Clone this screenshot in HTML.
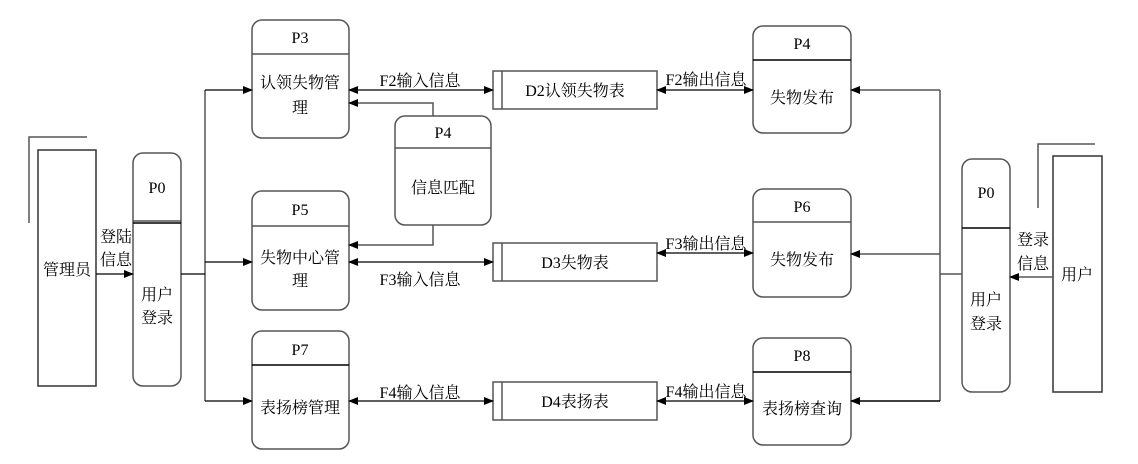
<!DOCTYPE html>
<html><head><meta charset="utf-8"><style>
html,body{margin:0;padding:0;background:#fff;}
svg text{font-family:"Liberation Serif","Noto Serif CJK SC",serif;font-size:16px;fill:#000;text-anchor:middle;}
</style></head><body>
<svg width="1138" height="459" viewBox="0 0 1138 459" xmlns="http://www.w3.org/2000/svg">
<defs>
<marker id="a" markerWidth="10" markerHeight="8" refX="9" refY="4" orient="auto-start-reverse" markerUnits="userSpaceOnUse"><path d="M0,0 L10,4 L0,8z" fill="#000"/></marker>
</defs>
<g fill="none" stroke="#555" stroke-width="1.5">
<polyline points="29,223 29,137 87,137"/>
<rect x="38" y="150" width="58" height="236" stroke="#333"/>
<rect x="133" y="153" width="48" height="233" rx="10"/>
<line x1="133" y1="221" x2="181" y2="221"/><line x1="133" y1="223" x2="181" y2="223" stroke="#000"/>
<rect x="252" y="20" width="97" height="118" rx="10"/><line x1="252" y1="54" x2="349" y2="54"/>
<rect x="252" y="191" width="97" height="119" rx="10"/><line x1="252" y1="226" x2="349" y2="226"/>
<rect x="252" y="331" width="97" height="118" rx="10"/><line x1="252" y1="365" x2="349" y2="365" stroke="#000"/>
<rect x="395" y="116" width="96" height="109" rx="10"/><line x1="395" y1="148" x2="491" y2="148"/>
<rect x="753" y="26" width="98" height="107" rx="10"/><line x1="753" y1="60" x2="851" y2="60" stroke="#000"/>
<rect x="753" y="189" width="98" height="108" rx="10"/><line x1="753" y1="222" x2="851" y2="222"/>
<rect x="753" y="338" width="98" height="107" rx="10"/><line x1="753" y1="372" x2="851" y2="372" stroke="#000"/>
<rect x="493" y="71" width="164" height="38"/><line x1="502" y1="71" x2="502" y2="109"/>
<rect x="493" y="243" width="164" height="38"/><line x1="502" y1="243" x2="502" y2="281"/>
<rect x="493" y="382" width="164" height="38"/><line x1="502" y1="382" x2="502" y2="420"/>
<rect x="962" y="159" width="48" height="233" rx="10"/>
<line x1="962" y1="228" x2="1010" y2="228" stroke="#000"/>
<polyline points="1038,208 1038,144 1095,144"/>
<rect x="1053" y="156" width="49" height="236" stroke="#333"/>
<line x1="205" y1="90" x2="205" y2="401"/>
<line x1="940" y1="90" x2="940" y2="401"/>
<line x1="940" y1="274" x2="962" y2="274"/>
<polyline points="433,116 433,103 349,103" marker-end="url(#a)"/>
<polyline points="433,225 433,245 349,245" marker-end="url(#a)"/>
<line x1="1053" y1="277" x2="1010" y2="277" marker-end="url(#a)"/>
<line x1="940" y1="90" x2="851" y2="90" marker-end="url(#a)"/>
<line x1="940" y1="254" x2="851" y2="254" marker-end="url(#a)"/>
<line x1="940" y1="401" x2="851" y2="401" stroke="#000" marker-end="url(#a)"/>
</g>
<g fill="none" stroke="#000" stroke-width="1.3">
<line x1="96" y1="274" x2="133" y2="274" marker-end="url(#a)"/>
<line x1="181" y1="274" x2="205" y2="274"/>
<line x1="205" y1="90" x2="252" y2="90" marker-end="url(#a)"/>
<line x1="205" y1="262" x2="252" y2="262" marker-end="url(#a)"/>
<line x1="205" y1="401" x2="252" y2="401" marker-end="url(#a)"/>
<line x1="349" y1="90" x2="493" y2="90" marker-start="url(#a)" marker-end="url(#a)"/>
<line x1="657" y1="90" x2="753" y2="90" marker-start="url(#a)" marker-end="url(#a)"/>
<line x1="349" y1="262" x2="493" y2="262" marker-start="url(#a)" marker-end="url(#a)"/>
<line x1="657" y1="253" x2="753" y2="253" marker-start="url(#a)" marker-end="url(#a)"/>
<line x1="349" y1="401" x2="493" y2="401" marker-start="url(#a)" marker-end="url(#a)"/>
<line x1="657" y1="401" x2="753" y2="401" marker-start="url(#a)" marker-end="url(#a)"/>
</g>
<text x="67" y="275">管理员</text>
<text x="116" y="242">登陆</text><text x="116" y="265">信息</text>
<text x="157" y="193">P0</text>
<text x="157" y="300">用户</text><text x="157" y="323">登录</text>
<text x="300" y="43">P3</text><text x="300" y="88">认领失物管</text><text x="300" y="113">理</text>
<text x="300" y="215">P5</text><text x="300" y="263">失物中心管</text><text x="300" y="286">理</text>
<text x="300" y="355">P7</text><text x="300" y="413">表扬榜管理</text>
<text x="443" y="138">P4</text><text x="443" y="193">信息匹配</text>
<text x="420" y="86">F2输入信息</text>
<text x="420" y="285">F3输入信息</text>
<text x="420" y="398">F4输入信息</text>
<text x="575" y="96">D2认领失物表</text>
<text x="575" y="268">D3失物表</text>
<text x="575" y="407">D4表扬表</text>
<text x="706" y="85">F2输出信息</text>
<text x="706" y="249">F3输出信息</text>
<text x="706" y="397">F4输出信息</text>
<text x="802" y="49">P4</text><text x="802" y="103">失物发布</text>
<text x="802" y="212">P6</text><text x="802" y="265">失物发布</text>
<text x="802" y="361">P8</text><text x="802" y="414">表扬榜查询</text>
<text x="986" y="198">P0</text>
<text x="986" y="305">用户</text><text x="986" y="329">登录</text>
<text x="1033" y="245">登录</text><text x="1033" y="269">信息</text>
<text x="1077" y="280">用户</text>
</svg>
</body></html>
